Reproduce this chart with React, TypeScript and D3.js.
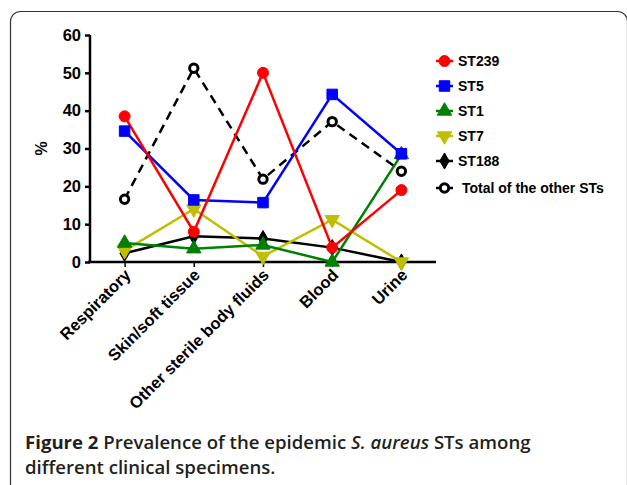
import React, { useEffect, useRef } from 'react';
import * as d3 from 'd3';

const categories = ['Respiratory', 'Skin/soft tissue', 'Other sterile body fluids', 'Blood', 'Urine'];
const seriesNames = ['ST239', 'ST5', 'ST1', 'ST7', 'ST188', 'Total of the other STs'];
const st239 = [38.5, 8, 50, 3.8, 19];
const st5 = [34.6, 16.4, 15.7, 44.3, 28.6];
const st1 = [5, 3.5, 4.5, 0, 28.4];
const st7 = [3, 14, 1.5, 11.2, 0];
const st188 = [2.3, 6.8, 6.2, 3.8, 0];
const otherSTs = [16.6, 51.2, 21.9, 37.1, 24];
const yTicks = [0, 10, 20, 30, 40, 50, 60];

const seriesValues = [st239, st5, st1, st7, st188, otherSTs];
const colors = ['#ff0000', '#0000ff', '#008000', '#bfbf00', '#000000', '#000000'];
const symbols = [d3.symbolCircle, d3.symbolSquare, d3.symbolTriangle, d3.symbolTriangle, d3.symbolDiamond, d3.symbolCircle];

const width = 627;
const height = 485;

const App: React.FC = () => {
  const svgRef = useRef<SVGSVGElement>(null);

  useEffect(() => {
    if (!svgRef.current) return;
    const svg = d3.select(svgRef.current);
    svg.selectAll('*').remove();

    // panel border
    svg.append('rect')
      .attr('x', 10.5)
      .attr('y', 11.5)
      .attr('width', 617)
      .attr('height', 520)
      .attr('rx', 10)
      .attr('fill', '#fff')
      .attr('stroke', '#333')
      .attr('stroke-width', 1.2);

    const x = d3.scalePoint<string>().domain(categories).range([90, 436]).padding(0.5);
    const y = d3.scaleLinear().domain([0, 60]).range([262, 35]);

    const font = 'Arial, "Liberation Sans", sans-serif';

    // y axis
    const yAxis = svg.append('g')
      .attr('transform', 'translate(90,0)')
      .call(d3.axisLeft(y).tickValues(yTicks).tickSize(5).tickPadding(4).tickFormat(d3.format('d')));
    yAxis.select('.domain').attr('stroke', '#000').attr('stroke-width', 2.5).attr('d', `M0,${y(60)}V${y(0)}`);
    yAxis.selectAll('.tick line').attr('stroke', '#000').attr('stroke-width', 2.5);
    yAxis.selectAll('.tick text')
      .attr('font-family', font)
      .attr('font-weight', 'bold')
      .attr('font-size', 16.5)
      .attr('fill', '#000');

    // x axis
    const xAxis = svg.append('g')
      .attr('transform', `translate(0,${y(0)})`)
      .call(d3.axisBottom(x).tickSize(5).tickFormat(() => ''));
    xAxis.select('.domain').attr('stroke', '#000').attr('stroke-width', 2.5).attr('d', `M88,0H436`);
    xAxis.selectAll('.tick line').attr('stroke', '#000').attr('stroke-width', 1.5);

    svg.append('g')
      .selectAll('text')
      .data(categories)
      .enter()
      .append('text')
      .attr('transform', d => `translate(${(x(d) ?? 0) + 3},${y(0) + 10}) rotate(-45)`)
      .attr('text-anchor', 'end')
      .attr('dy', '0.35em')
      .attr('font-family', font)
      .attr('font-weight', 'bold')
      .attr('font-size', 16.5)
      .attr('fill', '#000')
      .text(d => d);

    svg.append('text')
      .attr('transform', `translate(47,${(y(0) + y(60)) / 2}) rotate(-90)`)
      .attr('text-anchor', 'middle')
      .attr('font-family', font)
      .attr('font-weight', 'bold')
      .attr('font-size', 16)
      .text('%');

    // series lines
    const line = d3.line<number>()
      .x((_, i) => x(categories[i]) ?? 0)
      .y(d => y(d));

    const drawOrder = [5, 4, 3, 2, 1, 0];
    drawOrder.forEach(s => {
      svg.append('path')
        .datum(seriesValues[s])
        .attr('fill', 'none')
        .attr('stroke', colors[s])
        .attr('stroke-width', 2.5)
        .attr('stroke-dasharray', s === 5 ? '9,6' : null)
        .attr('d', line);
    });

    const marker = (g: d3.Selection<any, any, any, any>, s: number, cx: number, cy: number) => {
      const sizes = [95, 110, 90, 90, 75, 55];
      const isOpen = s === 5;
      const rot = s === 3 ? 180 : 0;
      g.append('path')
        .attr('d', d3.symbol().type(symbols[s]).size(sizes[s])())
        .attr('transform', `translate(${cx},${cy}) rotate(${rot})`)
        .attr('fill', isOpen ? '#fff' : colors[s])
        .attr('stroke', colors[s])
        .attr('stroke-width', isOpen ? 3 : 1);
    };

    drawOrder.forEach(s => {
      const g = svg.append('g');
      seriesValues[s].forEach((v, i) => marker(g, s, x(categories[i]) ?? 0, y(v)));
    });

    // legend
    const legendY = d3.scalePoint<string>().domain(seriesNames.slice(0, 5)).range([61, 161]);
    seriesNames.forEach((name, s) => {
      const ly = s < 5 ? (legendY(name) ?? 0) : 188;
      const g = svg.append('g');
      g.append('line')
        .attr('x1', 436).attr('x2', 453)
        .attr('y1', ly).attr('y2', ly)
        .attr('stroke', colors[s])
        .attr('stroke-width', 2.5);
      marker(g, s, 444.5, ly);
      g.append('text')
        .attr('x', s < 5 ? 458 : 462)
        .attr('y', ly)
        .attr('dy', '0.36em')
        .attr('font-family', font)
        .attr('font-weight', 'bold')
        .attr('font-size', 14)
        .attr('fill', '#000')
        .text(name);
    });

    // caption
    const capFont = '"Open Sans", "Noto Sans", sans-serif';
    const cap1 = svg.append('text')
      .attr('x', 25)
      .attr('y', 449)
      .attr('font-family', capFont)
      .attr('font-size', 18.6)
      .attr('fill', '#231f20');
    cap1.append('tspan').attr('font-weight', 'bold').text('Figure 2');
    cap1.append('tspan').attr('font-weight', 600).text(' Prevalence of the epidemic ');
    cap1.append('tspan').attr('font-weight', 600).attr('font-style', 'italic').text('S. aureus');
    cap1.append('tspan').attr('font-weight', 600).text(' STs among');

    svg.append('text')
      .attr('x', 25)
      .attr('y', 474)
      .attr('font-family', capFont)
      .attr('font-size', 18.6)
      .attr('font-weight', 600)
      .attr('fill', '#231f20')
      .text('different clinical specimens.');
  }, []);

  return (
    <svg
      ref={svgRef}
      width={width}
      height={height}
      style={{ position: 'absolute', left: 0, top: 0, background: '#fff' }}
    />
  );
};

export default App;
